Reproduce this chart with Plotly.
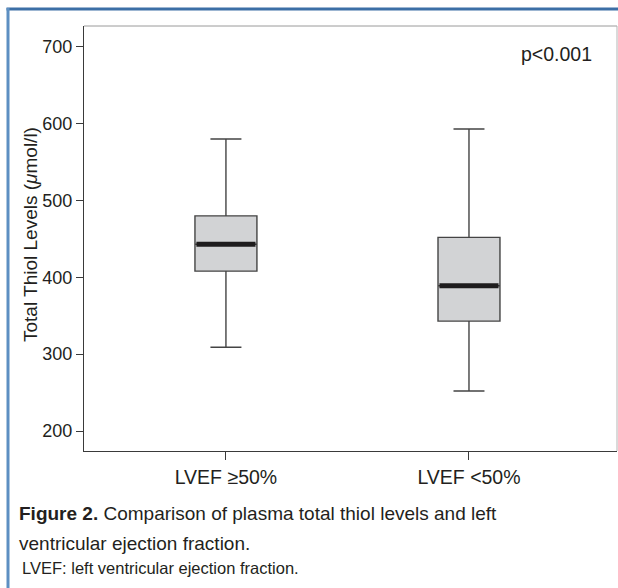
import plotly.graph_objects as go

# ---- data ----
categories = ["LVEF ≥50%", "LVEF <50%"]
lower_whisker = [309, 252]
q1_vals = [408, 343]
median_vals = [443, 389]
q3_vals = [480, 452]
upper_whisker = [580, 593]
y_ticks = [200, 300, 400, 500, 600, 700]
p_text = "p<0.001"

W, H = 618, 588
L, R, T, B = 84, 1, 26, 137
FONT = "Liberation Sans, Arial, Helvetica, sans-serif"
TXT = "#231f20"
BOXW = 0.255

fig = go.Figure()
xpos = list(range(len(categories)))
for i, c in enumerate(categories):
    fig.add_trace(go.Box(
        x=[xpos[i]], q1=[q1_vals[i]], median=[median_vals[i]], q3=[q3_vals[i]],
        lowerfence=[lower_whisker[i]], upperfence=[upper_whisker[i]],
        width=BOXW, whiskerwidth=0.5,
        fillcolor="#d2d3d5", line=dict(color="#444444", width=1.4),
        boxpoints=False, showlegend=False, hoverinfo="skip",
    ))
    fig.add_trace(go.Scatter(
        x=[xpos[i] - BOXW / 2 + 0.006, xpos[i] + BOXW / 2 - 0.006],
        y=[median_vals[i], median_vals[i]],
        mode="lines", line=dict(color="#1e1c1d", width=5),
        showlegend=False, hoverinfo="skip",
    ))

fig.update_xaxes(
    range=[-0.584, 1.609], tickvals=xpos, ticktext=categories,
    showline=True, linecolor="#3a3a3a", linewidth=1.3,
    ticks="outside", ticklen=8, tickcolor="#3a3a3a", tickwidth=1,
    showgrid=False, zeroline=False,
    tickfont=dict(family=FONT, size=19.5, color=TXT),
)
fig.update_yaxes(
    range=[174, 727], tickvals=y_ticks,
    showline=True, linecolor="#3a3a3a", linewidth=1.3,
    ticks="outside", ticklen=7, tickcolor="#3a3a3a", tickwidth=1,
    showgrid=False, zeroline=False,
    tickfont=dict(family=FONT, size=18, color=TXT),
)

def px_x(px):
    return (px - L) / (W - L - R)

def px_y(py):
    return (H - B - py) / (H - B - T)

shapes = [
    dict(type="line", xref="paper", yref="paper", x0=0, x1=1, y0=1, y1=1,
         line=dict(color="#9a9a9a", width=1)),
    dict(type="line", xref="paper", yref="paper", x0=1, x1=1, y0=0, y1=1,
         line=dict(color="#b5b5b5", width=1)),
    dict(type="line", xref="paper", yref="paper", x0=px_x(6.5), x1=px_x(620),
         y0=px_y(9), y1=px_y(9), line=dict(color="#3c6fa6", width=3)),
    dict(type="line", xref="paper", yref="paper", x0=px_x(8), x1=px_x(8),
         y0=px_y(8), y1=px_y(590), line=dict(color="#5d8fc2", width=3)),
]

annotations = [
    dict(text="Total Thiol Levels (<i>μ</i>mol/l)", xref="paper", yref="paper",
         x=px_x(30), y=px_y(235), textangle=-90, showarrow=False,
         xanchor="center", yanchor="middle",
         font=dict(family=FONT, size=19, color=TXT)),
    dict(text=p_text, xref="paper", yref="paper", x=px_x(594), y=px_y(54),
         showarrow=False, xanchor="right", yanchor="middle",
         font=dict(family=FONT, size=19.5, color=TXT)),
    dict(text="<b>Figure 2.</b> Comparison of plasma total thiol levels and left",
         xref="paper", yref="paper", x=px_x(17), y=px_y(513), showarrow=False,
         xanchor="left", yanchor="middle",
         font=dict(family=FONT, size=19, color=TXT)),
    dict(text="ventricular ejection fraction.",
         xref="paper", yref="paper", x=px_x(17), y=px_y(543), showarrow=False,
         xanchor="left", yanchor="middle",
         font=dict(family=FONT, size=19, color=TXT)),
    dict(text="LVEF: left ventricular ejection fraction.",
         xref="paper", yref="paper", x=px_x(20), y=px_y(568), showarrow=False,
         xanchor="left", yanchor="middle",
         font=dict(family=FONT, size=16.5, color=TXT)),
]

fig.update_layout(
    width=W, height=H, margin=dict(l=L, r=R, t=T, b=B),
    paper_bgcolor="white", plot_bgcolor="white",
    shapes=shapes, annotations=annotations, showlegend=False,
)

fig.write_html("out.html")
